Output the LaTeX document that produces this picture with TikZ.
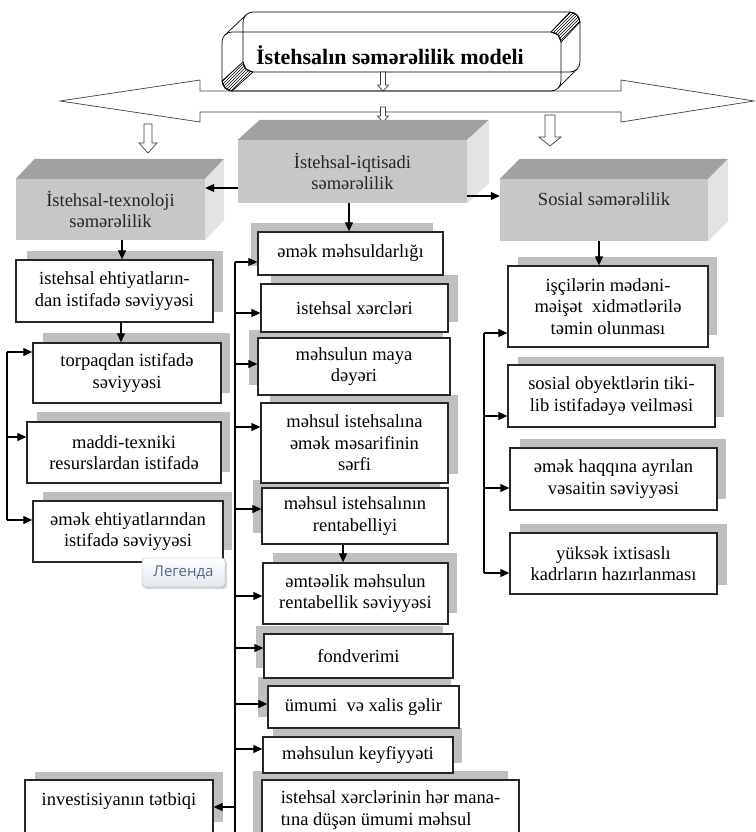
\documentclass[tikz,border=0pt]{standalone}
\usepackage{fontspec}
\setmainfont{Liberation Serif}
\newfontfamily\legendfont{Open Sans}
\usetikzlibrary{arrows.meta,patterns,shadows}
\newcommand\cellfont{\fontsize{18.5}{21.5}\selectfont}
\definecolor{legendblue}{RGB}{84,100,132}
\definecolor{legendgrey}{RGB}{226,230,238}
\begin{document}
\begin{tikzpicture}[x=1pt,y=-1pt,
	cell/.style={draw=black!85,line width=1.3pt,fill=white,align=center,inner sep=0pt,font=\cellfont},
	ghost/.style={fill=black!25},
	front/.style={fill=black!22,align=center,inner sep=0pt,font=\cellfont,text=black!85},
	topface/.style={fill=black!37},
	sideface/.style={fill=black!11},
	arr/.style={-{Triangle[length=9pt,width=8pt]},line width=1.1pt},
	hollow/.style={draw=black!75,fill=white,line width=0.7pt}]
			\useasboundingbox (0,0) rectangle (755,832);
			\clip (0,0) rectangle (755,832);
			\fill[white] (0,0) rectangle (755,832);
			\draw[hollow] (60,101) -- (200,80) -- (200,91) -- (621,91) -- (621,80) -- (754,101) -- (621,122) -- (621,112) -- (200,112) -- (200,122) -- cycle;
			\draw[line width=0.7pt,rounded corners=10] (243,12) rectangle (580,72);
			\draw[line width=0.7pt,rounded corners=10] (222,32) rectangle (561,91);
			\draw[line width=0.7pt,pattern=north east lines] (570,12) -- (577,15) -- (580,22) -- (561,42) -- (558,35) -- (551,32) -- cycle;
			\draw[line width=0.7pt,pattern=north east lines] (243,62) -- (246,69) -- (253,72) -- (232,91) -- (225,88) -- (222,81) -- cycle;
			\draw[line width=0.7pt] (246,15) -- (225,35) (577,69) -- (558,88);
			\node[font=\fontsize{22}{26}\selectfont\bfseries] (model) at (390,55) {İstehsalın səmərəlilik modeli};
			\foreach \x/\ya/\yb/\s/\h/\l in {383/72/91/2.5/5.5/6,383/107/122/2.5/5.5/6,148/124/153/4/9/10,550/115/146/5/11/9}
				\draw[hollow] ({\x-\s},\ya) -- ({\x+\s},\ya) -- ({\x+\s},{\yb-\l}) -- ({\x+\h},{\yb-\l}) -- (\x,\yb) -- ({\x-\h},{\yb-\l}) -- ({\x-\s},{\yb-\l}) -- cycle;
			\node[front,minimum width=189,minimum height=61] (texno) at (110.5,209.5) {İstehsal-texnoloji\\səmərəlilik};
			\fill[topface] (texno.north west) -- ++(19,-20) -- ([shift={(19,-20)}]texno.north east) -- (texno.north east) -- cycle;
			\fill[sideface] (texno.north east) -- ++(19,-20) -- ([shift={(19,-20)}]texno.south east) -- (texno.south east) -- cycle;
			\node[front,minimum width=229,minimum height=63] (iqtisad) at (352.5,171.5) {İstehsal-iqtisadi\\səmərəlilik};
			\fill[topface] (iqtisad.north west) -- ++(22,-20) -- ([shift={(22,-20)}]iqtisad.north east) -- (iqtisad.north east) -- cycle;
			\fill[sideface] (iqtisad.north east) -- ++(22,-20) -- ([shift={(22,-20)}]iqtisad.south east) -- (iqtisad.south east) -- cycle;
			\node[front,minimum width=208,minimum height=62] (sosial) at (604,210) {Sosial səmərəlilik\\\mbox{}};
			\fill[topface] (sosial.north west) -- ++(20,-20) -- ([shift={(20,-20)}]sosial.north east) -- (sosial.north east) -- cycle;
			\fill[sideface] (sosial.north east) -- ++(20,-20) -- ([shift={(20,-20)}]sosial.south east) -- (sosial.south east) -- cycle;
			\foreach \a/\b/\c/\d in {27/251/223/312,43/333/230/393,37/412/230/472,43/492/232/550,35/772/223/822,
				251/223/433/266,271/275/458/322,249/330/443/385,270/395/458/474,253/480/440/533,273/553/457/613,
				256/626/443/668,258/677/451/717,273/728/462/763,253/771/508/840,
				518/257/717/335,518/357/724/417,520/439/726/499,520/524/727/585}
				\fill[ghost] (\a,\b) rectangle (\c,\d);
			\node[cell,minimum width=197,minimum height=62] (ehtiyat) at (114.5,291) {istehsal ehtiyatların-\\dan istifadə səviyyəsi};
			\node[cell,minimum width=188,minimum height=60] (torpaq) at (127,373) {torpaqdan istifadə\\səviyyəsi};
			\node[cell,minimum width=194,minimum height=61] (maddi) at (124,452.5) {maddi-texniki\\resurslardan istifadə};
			\node[cell,minimum width=190,minimum height=61] (emekeht) at (128,531.5) {əmək ehtiyatlarından\\istifadə səviyyəsi};
			\node[cell,minimum width=188,minimum height=60] (invest) at (119,810) {investisiyanın tətbiqi\\\mbox{}};
			\node[cell,minimum width=185,minimum height=43] (mehsuldar) at (350.5,253.5) {əmək məhsuldarlığı};
			\node[cell,minimum width=187,minimum height=48] (xerc) at (354.5,308) {istehsal xərcləri};
			\node[cell,minimum width=192,minimum height=57] (maya) at (354,366.5) {məhsulun maya\\dəyəri};
			\node[cell,minimum width=187,minimum height=80] (serf) at (354.5,443) {məhsul istehsalına\\əmək məsarifinin\\sərfi};
			\node[cell,minimum width=186,minimum height=56] (rentab) at (355,516) {məhsul istehsalının\\rentabelliyi};
			\node[cell,minimum width=185,minimum height=61] (emteelik) at (355.5,593.5) {əmtəəlik məhsulun\\rentabellik səviyyəsi};
			\node[cell,minimum width=189,minimum height=44] (fond) at (358.5,656) {fondverimi};
			\node[cell,minimum width=191,minimum height=42] (gelir) at (363.5,707) {ümumi~ və xalis gəlir};
			\node[cell,minimum width=190,minimum height=36] (keyfiyyet) at (358,755) {məhsulun keyfiyyəti};
			\node[cell,align=left,minimum width=257,minimum height=60] (manat) at (390.5,810) {istehsal xərclərinin hər mana-\\tına düşən ümumi məhsul};
			\node[cell,minimum width=200,minimum height=81] (isci) at (608,306.5) {işçilərin mədəni-\\məişət~ xidmətlərilə\\təmin olunması};
			\node[cell,minimum width=207,minimum height=62] (obyekt) at (611.5,396) {sosial obyektlərin tiki-\\lib istifadəyə veilməsi};
			\node[cell,minimum width=207,minimum height=62] (haqq) at (613.5,479) {əmək haqqına ayrılan\\vəsaitin səviyyəsi};
			\node[cell,minimum width=207,minimum height=61] (kadr) at (613.5,563.5) {yüksək ixtisaslı\\kadrların hazırlanması};
			\draw[arr] (iqtisad.west |- 0,188) -- (texno.east |- 0,188);
			\draw[arr] (iqtisad.east |- 0,196) -- (sosial.west |- 0,196);
			\draw[arr] (iqtisad.south -| 349,0) -- (mehsuldar.north -| 349,0);
			\draw[arr] (texno.south -| 122,0) -- (ehtiyat.north -| 122,0);
			\draw[arr] (ehtiyat.south -| 121,0) -- (torpaq.north -| 121,0);
			\draw[arr] (sosial.south -| 599,0) -- (isci.north -| 599,0);
			\draw[arr] (rentab.south -| 343,0) -- (emteelik.north -| 343,0);
			\coordinate (ltop) at (7,352);
			\coordinate (lend) at (7,520);
			\draw[line width=1.1pt] (ltop) -- (lend);
			\foreach \nd/\yy in {torpaq/352,maddi/437,emekeht/520}
				\draw[arr] (ltop |- 0,\yy) -- (\nd.west |- 0,\yy);
			\coordinate (mtop) at (235,262);
			\coordinate (mend) at (235,832);
			\draw[line width=1.1pt] (mtop) -- (mend);
			\foreach \nd/\yy in {mehsuldar/262,xerc/313,maya/364,serf/427,rentab/509,emteelik/596,fond/648,gelir/704,keyfiyyet/749}
				\draw[arr] (mtop |- 0,\yy) -- (\nd.west |- 0,\yy);
			\draw[arr] (mtop |- 0,807) -- (invest.east |- 0,807);
			\coordinate (rtop) at (484,333);
			\coordinate (rend) at (484,573);
			\draw[line width=1.1pt] (rtop) -- (rend);
			\foreach \nd/\yy in {isci/333,obyekt/416,haqq/488,kadr/573}
				\draw[arr] (rtop |- 0,\yy) -- (\nd.west |- 0,\yy);
			\node[draw=black!35,rounded corners=3pt,minimum width=83,minimum height=29,inner sep=0pt,top color=white,bottom color=legendgrey,
				drop shadow={opacity=0.3,shadow xshift=2pt,shadow yshift=-2pt},font=\legendfont\fontsize{15}{17}\selectfont,text=legendblue] (legend) at (183.5,572.5) {Легенда};
		\end{tikzpicture}
\end{document}
